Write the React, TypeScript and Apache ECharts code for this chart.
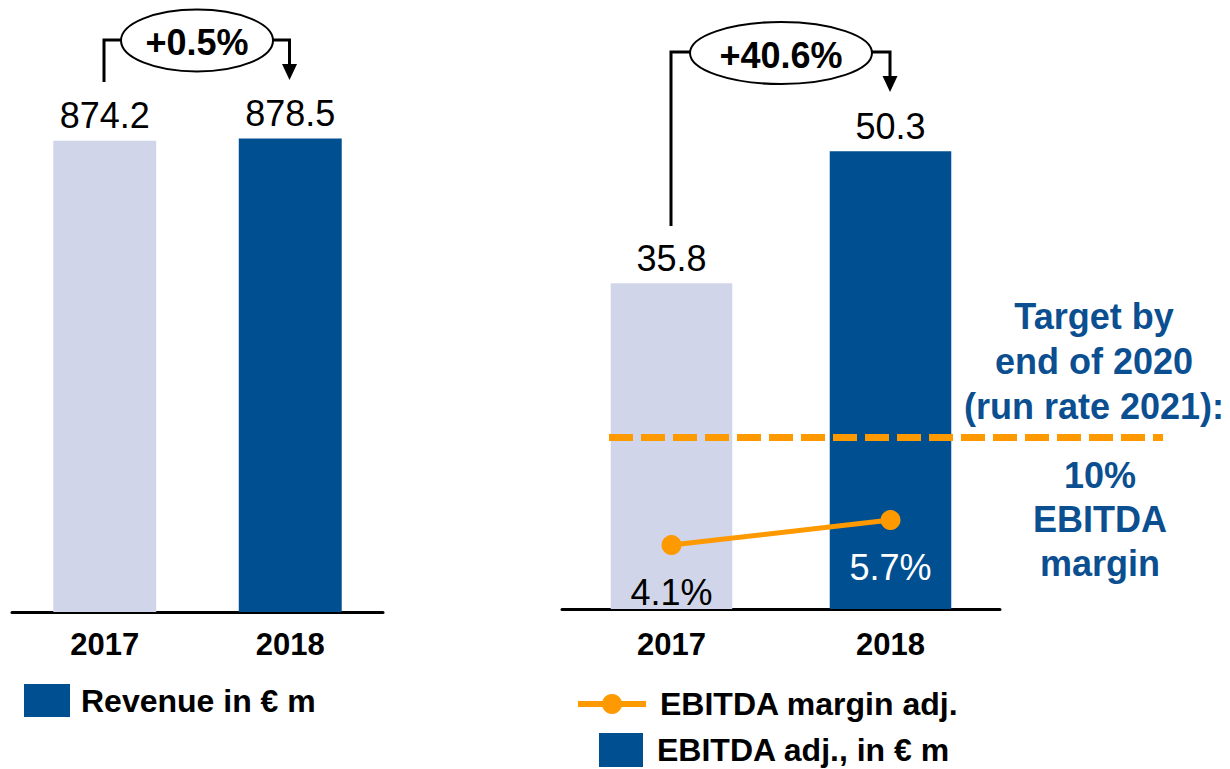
import React, { useEffect, useRef } from "react";
import * as echarts from "echarts";

const categories = ["2017", "2018"];
const revenue = [874.2, 878.5];
const ebitda = [35.8, 50.3];
const margin = [4.1, 5.7];
const barColors = ["#D0D5E9", "#004F91"];
const marginLabelColors = ["#000000", "#FFFFFF"];
const growthLabels = ["+0.5%", "+40.6%"];
const targetLines = ["Target by", "end of 2020", "(run rate 2021):"];
const targetValueLines = ["10%", "EBITDA", "margin"];
const revenueName = "Revenue in € m";
const ebitdaName = "EBITDA adj., in € m";
const marginName = "EBITDA margin adj.";

const FONT = "'Liberation Sans', Arial, Helvetica, sans-serif";
const ORANGE = "#FF9900";
const DARK = "#004F91";
const TEXT_BLUE = "#0B4F91";

export default function App() {
  const ref = useRef<HTMLDivElement>(null);

  useEffect(() => {
    if (!ref.current) return;
    const chart = echarts.init(ref.current, undefined, { renderer: "svg" });

    const axisLabel = (m: number) => ({
      fontSize: 31,
      fontWeight: "bold",
      color: "#000",
      margin: m,
      lineHeight: 31,
      fontFamily: FONT,
    });
    const axisLine = { lineStyle: { color: "#000", width: 3 } };

    const barLabel = {
      show: true,
      position: "top",
      distance: 7,
      fontSize: 36,
      lineHeight: 36,
      color: "#000",
      fontFamily: FONT,
      formatter: (p: any) => Number(p.value).toFixed(1),
    };

    const legendText = {
      fontSize: 32,
      fontWeight: "bold",
      color: "#000",
      fontFamily: FONT,
    };

    const bracket = (
      vx: number,
      vTop: number,
      vBottom: number,
      cx: number,
      cy: number,
      rx: number,
      ry: number,
      ax: number,
      arrowTip: number,
      text: string
    ) => [
      {
        type: "polyline",
        shape: { points: [[vx, vBottom], [vx, vTop], [cx - rx, vTop]] },
        style: { stroke: "#000", lineWidth: 3, fill: null },
      },
      {
        type: "polyline",
        shape: { points: [[cx + rx, vTop], [ax, vTop], [ax, arrowTip - 14]] },
        style: { stroke: "#000", lineWidth: 3, fill: null },
      },
      {
        type: "polygon",
        shape: { points: [[ax - 7.5, arrowTip - 16], [ax + 7.5, arrowTip - 16], [ax, arrowTip]] },
        style: { fill: "#000" },
      },
      {
        type: "ellipse",
        shape: { cx, cy, rx, ry },
        style: { fill: "#fff", stroke: "#000", lineWidth: 2 },
      },
      {
        type: "text",
        style: {
          x: cx,
          y: cy + 2,
          text,
          align: "center",
          verticalAlign: "middle",
          font: `bold 36px ${FONT}`,
          fill: "#000",
        },
      },
    ];

    const option: any = {
      animation: false,
      backgroundColor: "#fff",
      grid: [
        { left: 12, top: 73, width: 371, height: 539 },
        { left: 562, top: 63, width: 438, height: 546 },
      ],
      xAxis: [
        {
          type: "category",
          gridIndex: 0,
          data: categories,
          axisLine,
          axisTick: { show: false },
          axisLabel: axisLabel(17),
        },
        {
          type: "category",
          gridIndex: 1,
          data: categories,
          axisLine,
          axisTick: { show: false },
          axisLabel: axisLabel(20),
        },
      ],
      yAxis: [
        { type: "value", gridIndex: 0, min: 0, max: 1000, show: false },
        { type: "value", gridIndex: 1, min: 0, max: 60, show: false },
        { type: "value", gridIndex: 1, min: 0, max: 35, show: false },
      ],
      legend: [
        {
          data: [revenueName],
          left: 24,
          top: 684,
          padding: 0,
          itemWidth: 46,
          itemHeight: 33,
          icon: "rect",
          selectedMode: false,
          textStyle: { ...legendText, padding: [0, 0, 0, 6] },
        },
        {
          data: [marginName],
          left: 575,
          top: 688,
          padding: 0,
          itemWidth: 68,
          itemHeight: 25,
          selectedMode: false,
          lineStyle: { width: 6, color: ORANGE },
          itemStyle: { color: ORANGE },
          textStyle: { ...legendText, padding: [0, 0, 0, 9] },
        },
        {
          data: [ebitdaName],
          left: 599,
          top: 733,
          padding: 0,
          itemWidth: 44,
          itemHeight: 34,
          icon: "rect",
          selectedMode: false,
          textStyle: { ...legendText, padding: [0, 0, 0, 9] },
        },
      ],
      series: [
        {
          name: revenueName,
          type: "bar",
          xAxisIndex: 0,
          yAxisIndex: 0,
          barCategoryGap: "44.5%",
          itemStyle: { color: DARK },
          label: barLabel,
          data: revenue.map((v, i) => ({ value: v, itemStyle: { color: barColors[i] } })),
        },
        {
          name: ebitdaName,
          type: "bar",
          xAxisIndex: 1,
          yAxisIndex: 1,
          barCategoryGap: "44.5%",
          itemStyle: { color: DARK },
          label: barLabel,
          data: ebitda.map((v, i) => ({ value: v, itemStyle: { color: barColors[i] } })),
        },
        {
          name: marginName,
          type: "line",
          xAxisIndex: 1,
          yAxisIndex: 2,
          symbol: "circle",
          symbolSize: 20,
          z: 5,
          lineStyle: { color: ORANGE, width: 5 },
          itemStyle: { color: ORANGE },
          label: {
            show: true,
            position: "bottom",
            distance: 19,
            fontSize: 36,
            lineHeight: 36,
            fontFamily: FONT,
            formatter: (p: any) => Number(p.value).toFixed(1) + "%",
          },
          data: margin.map((v, i) => ({ value: v, label: { color: marginLabelColors[i] } })),
        },
      ],
      graphic: [
        ...bracket(104, 40, 82, 197, 40.5, 76, 31, 289.5, 80, growthLabels[0]),
        ...bracket(671, 52, 226, 781, 53, 91, 31, 890, 92, growthLabels[1]),
        {
          type: "line",
          shape: { x1: 609, y1: 437.5, x2: 1163, y2: 437.5 },
          style: { stroke: ORANGE, lineWidth: 7, lineDash: [24, 8] },
          z: 10,
        },
        {
          type: "text",
          style: {
            x: 1094,
            y: 361,
            text: targetLines.join("\n"),
            align: "center",
            verticalAlign: "middle",
            font: `bold 36px ${FONT}`,
            lineHeight: 45,
            fill: TEXT_BLUE,
          },
        },
        {
          type: "text",
          style: {
            x: 1100,
            y: 519,
            text: targetValueLines.join("\n"),
            align: "center",
            verticalAlign: "middle",
            font: `bold 36px ${FONT}`,
            lineHeight: 44,
            fill: TEXT_BLUE,
          },
        },
      ],
    };

    chart.setOption(option);
    return () => chart.dispose();
  }, []);

  return (
    <div
      ref={ref}
      style={{ position: "fixed", left: 0, top: 0, width: 1230, height: 769, background: "#fff" }}
    />
  );
}
